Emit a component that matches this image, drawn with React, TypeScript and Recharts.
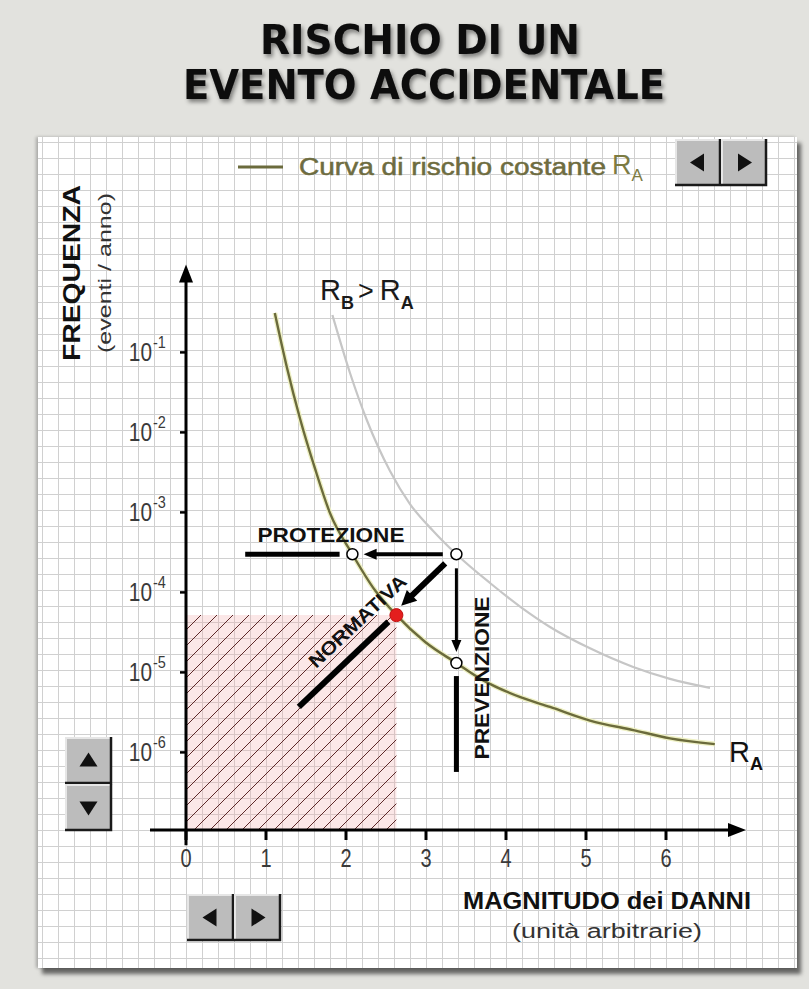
import React from 'react';
import { ComposedChart, Line, XAxis, YAxis, ReferenceArea, ReferenceLine, ReferenceDot } from 'recharts';

// curva di rischio costante R_A
const magnitudeA = [1.11, 1.26, 1.43, 1.61, 1.8, 2.08, 2.36, 2.63, 2.99, 3.38, 3.71, 4.18, 4.55, 5.05, 5.59, 6.05, 6.61];
const frequencyA = [0.311, 0.0657, 0.0143, 3.6e-3, 9.8e-4, 3e-4, 1.07e-4, 5.2e-5, 2.4e-5, 1.31e-5, 8.0e-6, 4.9e-6, 3.7e-6, 2.5e-6, 1.9e-6, 1.5e-6, 1.27e-6];

// curva R_B > R_A
const magnitudeB = [1.83, 2.05, 2.26, 2.55, 2.8, 3.09, 3.38, 3.8, 4.18, 4.55, 5.05, 5.59, 6.05, 6.55];
const frequencyB = [0.293, 0.0553, 0.0143, 3.29e-3, 1.27e-3, 5.86e-4, 3e-4, 1.31e-4, 6.6e-5, 3.7e-5, 2.0e-5, 1.17e-5, 8.3e-6, 6.4e-6];

const xTicks = [0, 1, 2, 3, 4, 5, 6];
const yTicks = [1e-1, 1e-2, 1e-3, 1e-4, 1e-5, 1e-6];

// punti notevoli (magnitudo, frequenza)
const startPoint = { x: 3.38, y: 3e-4 };
const protectionPoint = { x: 2.08, y: 3e-4 };
const preventionPoint = { x: 3.38, y: 1.31e-5 };
const normativePoint = { x: 2.63, y: 5.2e-5 };

// frecce: [x1, y1, x2, y2]
const protectionTail = [0.74, 3e-4, 1.92, 3e-4];
const protectionArrow = [3.21, 3e-4, 2.22, 3e-4];
const preventionArrow = [3.38, 2.0e-4, 3.38, 1.8e-5];
const preventionTail = [3.38, 9e-6, 3.38, 5.7e-7];
const normativeArrow = [3.24, 2.3e-4, 2.69, 6.8e-5];
const normativeTail = [2.53, 4.3e-5, 1.41, 3.7e-6];

const xMin = 0;
const xMax = 7;
const yMin = Math.pow(10, -6.97);
const yMax = Math.pow(10, 0.1);

const curveA = magnitudeA.map((m, i) => ({ m, f: frequencyA[i] }));
const curveB = magnitudeB.map((m, i) => ({ m, f: frequencyB[i] }));

const seg = (s: number[]) => [{ x: s[0], y: s[1] }, { x: s[2], y: s[3] }] as any;

const arrow = (width: number, head: number, half: number) => (p: any) => {
  const { x1, y1, x2, y2 } = p;
  const dx = x2 - x1;
  const dy = y2 - y1;
  const len = Math.hypot(dx, dy) || 1;
  const ux = dx / len;
  const uy = dy / len;
  const bx = x2 - ux * head;
  const by = y2 - uy * head;
  return (
    <g>
      <line x1={x1} y1={y1} x2={head ? bx + ux : x2} y2={head ? by + uy : y2} stroke="#000" strokeWidth={width} />
      {head > 0 && (
        <polygon
          points={`${x2},${y2} ${bx - uy * half},${by + ux * half} ${bx + uy * half},${by - ux * half}`}
          fill="#000"
        />
      )}
    </g>
  );
};

const sans = '"Liberation Sans", Arial, sans-serif';

const XTick = (props: any) => {
  const { x, y, payload } = props;
  return (
    <text transform={`translate(${x},${y + 27}) scale(0.8,1)`} textAnchor="middle" fontFamily={sans} fontSize={25} fill="#3a3a3a">
      {payload.value}
    </text>
  );
};

const YTick = (props: any) => {
  const { x, y, payload } = props;
  const exp = Math.round(Math.log10(payload.value));
  return (
    <g fill="#3a3a3a" fontFamily={sans}>
      <text transform={`translate(${x - 28},${y + 9}) scale(0.8,1)`} fontSize={26} textAnchor="end">10</text>
      <text transform={`translate(${x - 27},${y - 4}) scale(0.85,1)`} fontSize={17}>{exp}</text>
    </g>
  );
};

const Button = ({ x, y, w, h, dir }: { x: number; y: number; w: number; h: number; dir: string }) => {
  const cx = x + w / 2;
  const cy = y + h / 2;
  const s = 8;
  let tri = '';
  if (dir === 'left') tri = `${cx - s},${cy} ${cx + s - 2},${cy - s - 1} ${cx + s - 2},${cy + s + 1}`;
  if (dir === 'right') tri = `${cx + s},${cy} ${cx - s + 2},${cy - s - 1} ${cx - s + 2},${cy + s + 1}`;
  if (dir === 'up') tri = `${cx},${cy - s} ${cx - s - 1},${cy + s - 2} ${cx + s + 1},${cy + s - 2}`;
  if (dir === 'down') tri = `${cx},${cy + s} ${cx - s - 1},${cy - s + 2} ${cx + s + 1},${cy - s + 2}`;
  return (
    <g>
      <rect x={x} y={y} width={w} height={h} fill="#bcbcbc" />
      <path d={`M${x + 1},${y + h} V${y + 1} H${x + w}`} stroke="#e6e6e6" strokeWidth={2} fill="none" />
      <path d={`M${x + w - 1},${y} V${y + h - 1} H${x}`} stroke="#1a1a1a" strokeWidth={2.5} fill="none" />
      <polygon points={tri} fill="#111" />
    </g>
  );
};

export default function App() {
  return (
    <div style={{ position: 'relative', width: 809, height: 989, background: '#e2e2de', overflow: 'hidden' }}>
      <style>{'body{margin:0}'}</style>
      <div
        style={{
          position: 'absolute',
          left: 38,
          top: 137,
          width: 759,
          height: 831,
          backgroundColor: '#fff',
          backgroundImage:
            'linear-gradient(to right, #d0d0d0 1px, transparent 1px), linear-gradient(to bottom, #d0d0d0 1px, transparent 1px)',
          backgroundSize: '16px 16px',
          backgroundPosition: '4px 5px',
          boxShadow: '4px 6px 4px rgba(0,0,0,0.55), -2px 0 3px rgba(0,0,0,0.25)',
        }}
      />
      <svg width={809} height={130} style={{ position: 'absolute', left: 0, top: 0 }}>
        <defs>
          <filter id="tshadow" x="-10%" y="-30%" width="120%" height="160%">
            <feDropShadow dx="2" dy="3" stdDeviation="2.2" floodColor="#000" floodOpacity="0.45" />
          </filter>
        </defs>
        <g fontFamily='"DejaVu Sans", sans-serif' fontWeight="bold" fontSize={40} fill="#0a0a0a" filter="url(#tshadow)" textAnchor="middle">
          <text x={420} y={54} textLength={320} lengthAdjust="spacingAndGlyphs">RISCHIO DI UN</text>
          <text x={424} y={99} textLength={482} lengthAdjust="spacingAndGlyphs">EVENTO ACCIDENTALE</text>
        </g>
      </svg>
      <div style={{ position: 'absolute', left: 0, top: 0 }}>
        <ComposedChart width={809} height={989} margin={{ top: 264.4, right: 63, bottom: 119, left: 126 }}>
          <defs>
            <pattern id="hatch" patternUnits="userSpaceOnUse" width={16} height={16}>
              <rect width={16} height={16} fill="rgba(240,170,170,0.28)" />
              <path d="M0,16 L16,0 M-4,4 L4,-4 M12,20 L20,12" stroke="#5e2a2a" strokeWidth={1} />
            </pattern>
          </defs>
          <XAxis
            type="number"
            dataKey="m"
            domain={[xMin, xMax]}
            ticks={xTicks}
            height={40}
            axisLine={false}
            tickSize={10}
            tickMargin={0}
            tickLine={{ stroke: '#000', strokeWidth: 3 }}
            tick={<XTick />}
            allowDataOverflow
          />
          <YAxis
            type="number"
            scale="log"
            domain={[yMin, yMax]}
            ticks={yTicks}
            width={60}
            axisLine={false}
            tickSize={6}
            tickMargin={0}
            tickLine={{ stroke: '#000', strokeWidth: 2.5 }}
            tick={<YTick />}
            allowDataOverflow
          />
          <ReferenceArea x1={0} x2={normativePoint.x} y1={yMin} y2={normativePoint.y} fill="url(#hatch)" fillOpacity={1} stroke="none" ifOverflow="visible" />
          <ReferenceLine segment={[{ x: -0.45, y: yMin }, { x: xMax, y: yMin }]} ifOverflow="visible" shape={arrow(3, 18, 7)} />
          <ReferenceLine segment={[{ x: 0, y: Math.pow(10, -7.16) }, { x: 0, y: yMax }]} ifOverflow="visible" shape={arrow(3, 18, 7)} />
          <Line data={curveB} dataKey="f" type="monotone" stroke="#c6c6c6" strokeWidth={2.2} dot={false} isAnimationActive={false} />
          <Line data={curveA} dataKey="f" type="monotone" stroke="#eef0c4" strokeWidth={5} dot={false} isAnimationActive={false} />
          <Line data={curveA} dataKey="f" type="monotone" stroke="#6b6b3c" strokeWidth={2.4} dot={false} isAnimationActive={false} />
          <ReferenceLine segment={seg(protectionTail)} ifOverflow="visible" shape={arrow(5, 0, 0)} />
          <ReferenceLine segment={seg(protectionArrow)} ifOverflow="visible" shape={arrow(4, 13, 5.5)} />
          <ReferenceLine segment={seg(preventionArrow)} ifOverflow="visible" shape={arrow(3, 12, 5)} />
          <ReferenceLine segment={seg(preventionTail)} ifOverflow="visible" shape={arrow(5, 0, 0)} />
          <ReferenceLine segment={seg(normativeArrow)} ifOverflow="visible" shape={arrow(6, 15, 7.5)} />
          <ReferenceLine segment={seg(normativeTail)} ifOverflow="visible" shape={arrow(6, 0, 0)} />
          <ReferenceDot x={startPoint.x} y={startPoint.y} r={5.5} fill="#fff" stroke="#000" strokeWidth={1.5} ifOverflow="visible" />
          <ReferenceDot x={protectionPoint.x} y={protectionPoint.y} r={5.5} fill="#fff" stroke="#000" strokeWidth={1.5} ifOverflow="visible" />
          <ReferenceDot x={preventionPoint.x} y={preventionPoint.y} r={5.5} fill="#fff" stroke="#000" strokeWidth={1.5} ifOverflow="visible" />
          <ReferenceDot x={normativePoint.x} y={normativePoint.y} r={6.5} fill="#e41e1e" stroke="#c01010" strokeWidth={1} ifOverflow="visible" />
        </ComposedChart>
      </div>
      <svg width={809} height={989} style={{ position: 'absolute', left: 0, top: 0, pointerEvents: 'none' }}>
        {/* legenda */}
        <line x1={238} y1={167} x2={283} y2={167} stroke="#6b6b3c" strokeWidth={3} />
        <text x={299} y={175} fontFamily={sans} fontSize={23} fill="#6e6c40" stroke="#6e6c40" strokeWidth={0.5} textLength={307} lengthAdjust="spacingAndGlyphs">
          Curva di rischio costante
        </text>
        <text x={612} y={174} fontFamily={sans} fontSize={27} fill="#7c7b42">
          R<tspan fontSize={17} dy={7}>A</tspan>
        </text>
        <Button x={675} y={139} w={46} h={47} dir="left" />
        <Button x={721} y={139} w={46} h={47} dir="right" />

        {/* titoli degli assi */}
        <text transform="translate(80,273) rotate(-90)" textAnchor="middle" fontFamily={sans} fontWeight="bold" fontSize={24} fill="#111" textLength={176} lengthAdjust="spacingAndGlyphs">
          FREQUENZA
        </text>
        <text transform="translate(111,273) rotate(-90)" textAnchor="middle" fontFamily={sans} fontSize={19} fill="#333" textLength={160} lengthAdjust="spacingAndGlyphs">
          (eventi / anno)
        </text>
        <text x={607} y={909} textAnchor="middle" fontFamily={sans} fontWeight="bold" fontSize={23} fill="#111" textLength={288} lengthAdjust="spacingAndGlyphs">
          MAGNITUDO dei DANNI
        </text>
        <text x={607} y={938} textAnchor="middle" fontFamily={sans} fontSize={20} fill="#333" textLength={190} lengthAdjust="spacingAndGlyphs">
          (unità arbitrarie)
        </text>

        {/* etichette delle curve */}
        <text x={320} y={300} fontFamily={sans} fontSize={29} fill="#1a1a1a">
          R<tspan fontSize={18} fontWeight="bold" dy={9}>B</tspan>
          <tspan dy={-9} dx={4} fontSize={27}>&gt;</tspan>
          <tspan dx={6}>R</tspan>
          <tspan fontSize={18} fontWeight="bold" dy={9}>A</tspan>
        </text>
        <text x={729} y={762} fontFamily={sans} fontSize={29} fill="#111">
          R<tspan fontSize={18} fontWeight="bold" dy={8}>A</tspan>
        </text>

        {/* azioni */}
        <text x={331} y={542} textAnchor="middle" fontFamily={sans} fontWeight="bold" fontSize={20} fill="#111" textLength={147} lengthAdjust="spacingAndGlyphs">
          PROTEZIONE
        </text>
        <text transform="translate(489,678) rotate(-90)" textAnchor="middle" fontFamily={sans} fontWeight="bold" fontSize={21} fill="#111" textLength={163} lengthAdjust="spacingAndGlyphs">
          PREVENZIONE
        </text>
        <text transform="translate(362,626) rotate(-43)" textAnchor="middle" fontFamily={sans} fontWeight="bold" fontSize={19} fill="#111" textLength={126} lengthAdjust="spacingAndGlyphs">
          NORMATIVA
        </text>

        <Button x={65} y={737} w={47} h={47} dir="up" />
        <Button x={65} y={784} w={47} h={47} dir="down" />
        <Button x={187} y={894} w={47} h={47} dir="left" />
        <Button x={234} y={894} w={47} h={47} dir="right" />
      </svg>
    </div>
  );
}
